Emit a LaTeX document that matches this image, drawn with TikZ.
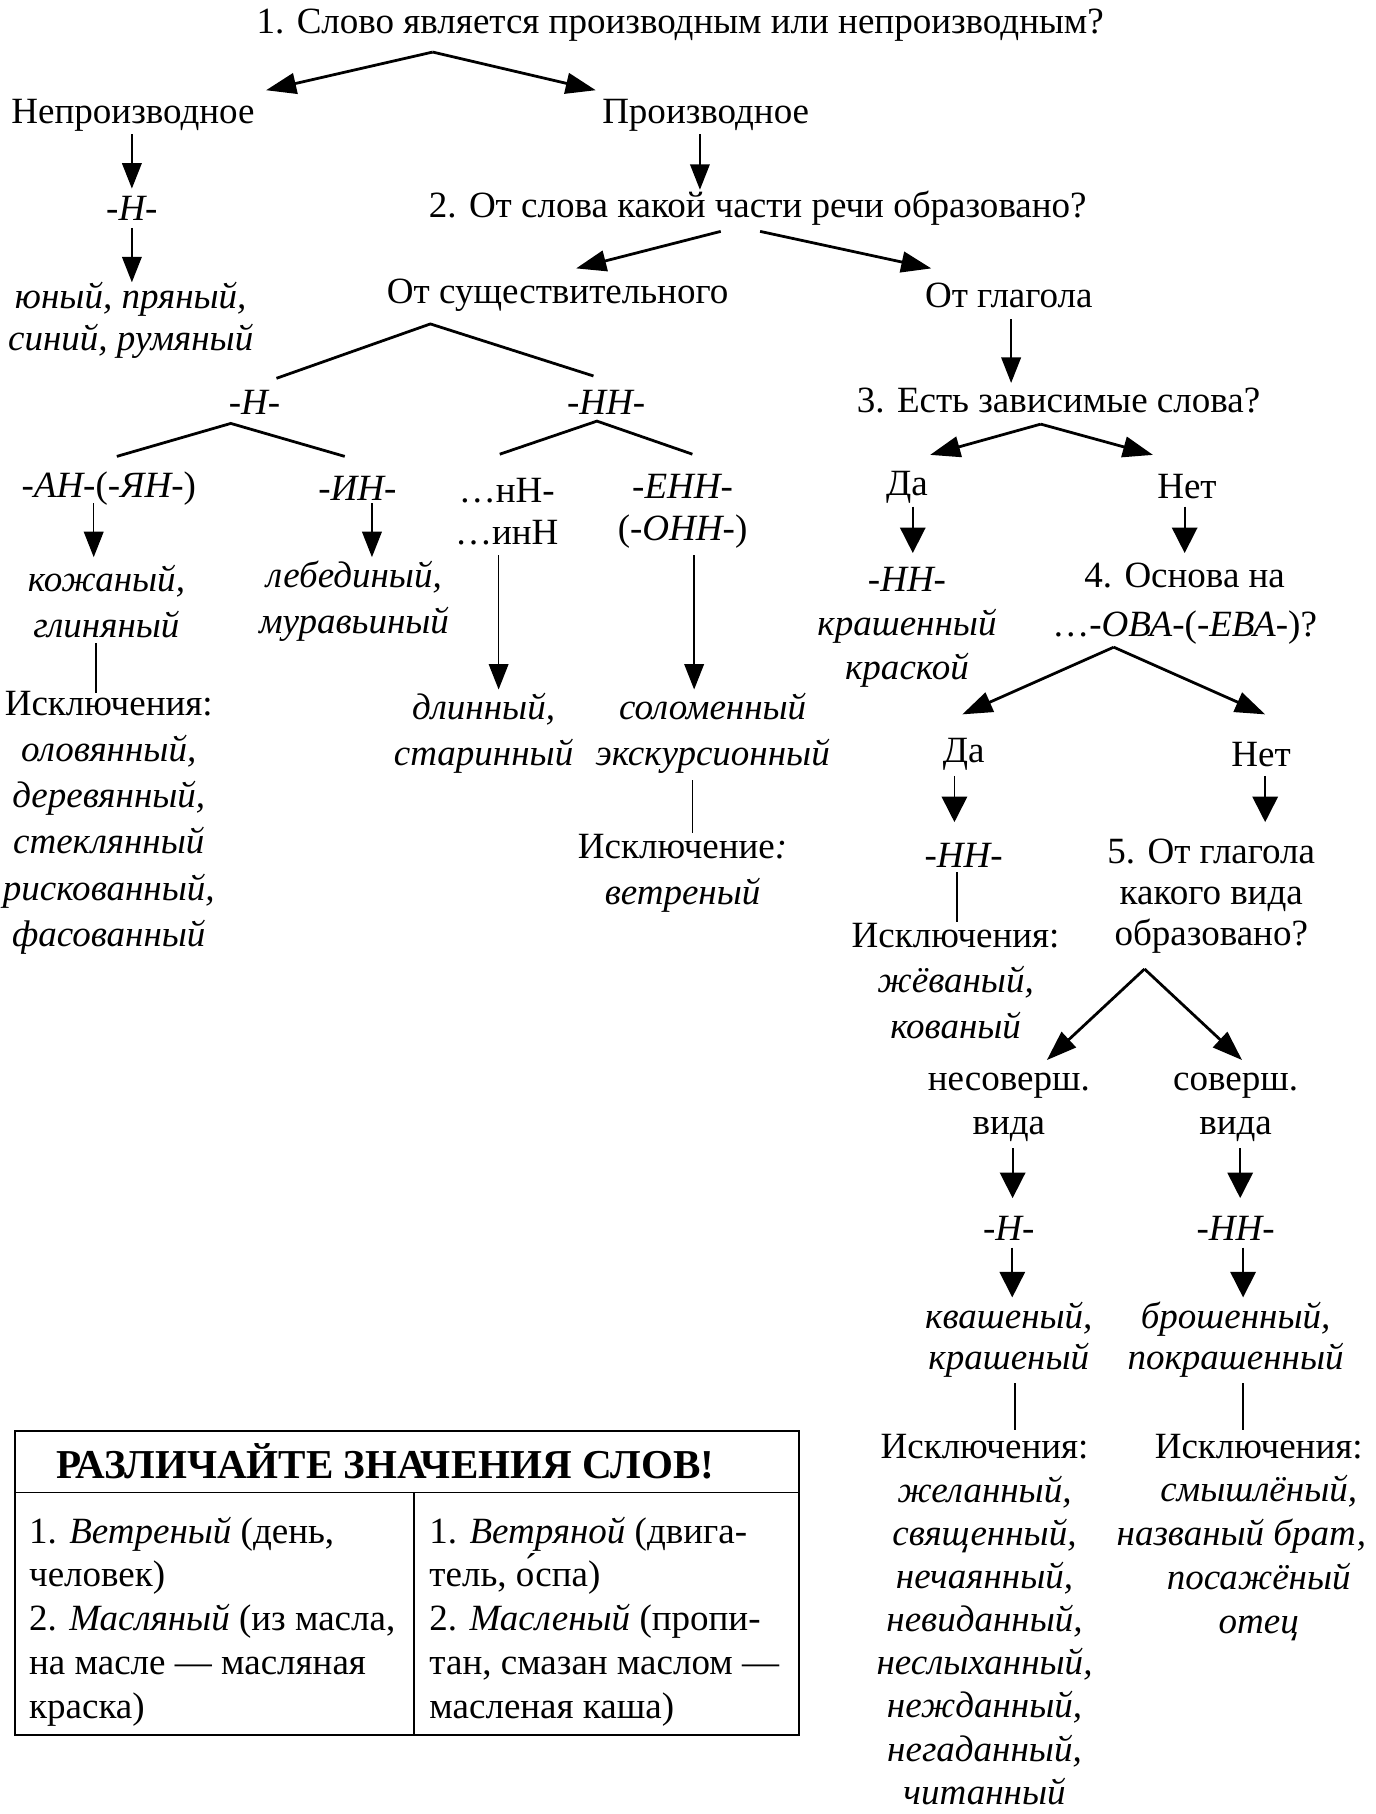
\documentclass[tikz,border=0pt]{standalone}
\usepackage{fontspec}
\setmainfont{Liberation Serif}
\usetikzlibrary{arrows.meta}

\begin{document}
\begin{tikzpicture}[x=1pt, y=-1pt,
    txt/.style={inner sep=0pt, align=center, font=\fontsize{32}{38}\selectfont},
    lsp/.style={font=\fontsize{32}{#1}\selectfont},
    ilsp/.style={font=\fontsize{32}{#1}\selectfont\itshape},
    arr/.style={-{Triangle[length=22pt,width=17pt]}, line width=1.3pt},
    arrw/.style={-{Triangle[length=22pt,width=22pt]}, line width=1.5pt},
    barr/.style={-{Triangle[length=26pt,width=18pt]}, line width=2.4pt},
    forkline/.style={line width=2.4pt},
    exline/.style={line width=1.5pt}]
    \useasboundingbox (0,0) rectangle (1189,1568);

    % left and middle part
    \node[txt] (q1) at (588,22) {1. Слово является производным или непроизводным?};
    \node[txt] (nonder) at (115,100) {Непроизводное};
    \node[txt] (der) at (610,100) {Производное};
    \node[txt] (n1) at (114,180) {\itshape -Н-};
    \node[txt, ilsp=36] (ex1) at (113,277) {юный, пряный,\\синий, румяный};
    \node[txt] (q2) at (655,180) {2. От слова какой части речи образовано?};
    \node[txt] (noun) at (482,255) {От существительного};
    \node[txt] (verb) at (872,255) {От глагола};
    \node[txt] (nh) at (220,348) {\itshape -Н-};
    \node[txt] (nnh) at (524,348) {\itshape -НН-};
    \node[txt] (an) at (94,422) {\textit{-АН-}(\textit{-ЯН-})};
    \node[txt] (in) at (309,422) {\itshape -ИН-};
    \node[txt, lsp=36] (nn3) at (438,442) {…нН-\\…инН};
    \node[txt, lsp=36] (enn) at (590,442) {\textit{-ЕНН-}\\(\textit{-ОНН-})};
    \node[txt, ilsp=40] (kozh) at (92,520) {кожаный,\\глиняный};
    \node[txt, ilsp=40] (leb) at (306,520) {лебединый,\\муравьиный};
    \node[txt, lsp=40] (exc1) at (94,711) {Исключения:\\\itshape оловянный,\\\itshape деревянный,\\\itshape стеклянный\\\itshape рискованный,\\\itshape фасованный};
    \node[txt, ilsp=40] (dlin) at (418,634) {длинный,\\старинный};
    \node[txt, ilsp=40] (solom) at (616,634) {соломенный\\экскурсионный};
    \node[txt, lsp=40] (exc2) at (590,755) {Исключение\textit{:}\\\itshape ветреный};

    % right part
    \node[txt] (q3) at (915,346) {3. Есть зависимые слова?};
    \node[txt] (yes1) at (784,421) {Да};
    \node[txt] (no1) at (1026,421) {Нет};
    \node[txt] (hh2) at (784,501) {\itshape -НН-};
    \node[txt, ilsp=38] (krash) at (784,560) {крашенный\\краской};
    \node[txt, lsp=42] (q4) at (1024,522) {4. Основа на\\…-\textit{ОВА}-(-\textit{ЕВА}-)?};
    \node[txt] (yes2) at (833,652) {Да};
    \node[txt] (no2) at (1090,652) {Нет};
    \node[txt] (hh3) at (833,739) {\itshape -НН-};
    \node[txt, lsp=39.5] (exc3) at (826,848) {Исключения:\\\itshape жёваный,\\\itshape кованый};
    \node[txt, lsp=35.5] (q5) at (1047,775) {5. От глагола\\какого вида\\образовано?};
    \node[txt] (imperf) at (872,957) {несоверш.\\вида};
    \node[txt] (perf) at (1068,957) {соверш.\\вида};
    \node[txt] (h4) at (872,1062) {\itshape -Н-};
    \node[txt] (hh4) at (1068,1062) {\itshape -НН-};
    \node[txt, ilsp=36] (kvash) at (872,1158) {квашеный,\\крашеный};
    \node[txt, ilsp=36] (brosh) at (1068,1158) {брошенный,\\покрашенный};
    \node[txt, lsp=37.3] (exc4) at (851,1400) {Исключения:\\\itshape желанный,\\\itshape священный,\\\itshape нечаянный,\\\itshape невиданный,\\\itshape неслыханный,\\\itshape нежданный,\\\itshape негаданный,\\\itshape читанный};
    \node[txt, lsp=38] (exc5) at (1088,1329) {Исключения:\\\itshape смышлёный,\\\itshape названый брат,\kern30pt\\\itshape посажёный\\\itshape отец};

    % forks
    \coordinate (q1fork) at ([shift={(-214,23)}]q1.center);
    \draw[barr] (q1fork) -- ([shift={(115,-22)}]nonder.center);
    \draw[barr] (q1fork) -- ([shift={(-95,-22)}]der.center);
    \draw[barr] ([shift={(-32,20)}]q2.center) -- ([shift={(16,-23)}]noun.center);
    \draw[barr] ([shift={(2,20)}]q2.center) -- ([shift={(-67,-23)}]verb.center);
    \coordinate (nounfork) at ([shift={(-110,25)}]noun.center);
    \draw[forkline] ([shift={(19,-21)}]nh.center) -- (nounfork) -- ([shift={(-11,-23)}]nnh.center);
    \coordinate (nhfork) at ([shift={(-20.5,18)}]nh.center);
    \draw[forkline] ([shift={(7,-27.5)}]an.center) -- (nhfork) -- ([shift={(-11,-27.5)}]in.center);
    \coordinate (nnhfork) at ([shift={(-8,16)}]nnh.center);
    \draw[forkline] ([shift={(-6,-49.4)}]nn3.center) -- (nnhfork) -- ([shift={(8.5,-49.4)}]enn.center);
    \coordinate (q3fork) at ([shift={(-15.4,20.6)}]q3.center);
    \draw[barr] (q3fork) -- ([shift={(20,-27.8)}]yes1.center);
    \draw[barr] (q3fork) -- ([shift={(-29.4,-27.8)}]no1.center);
    \coordinate (q4fork) at ([shift={(-61.3,37.4)}]q4.center);
    \draw[barr] (q4fork) -- ([shift={(-1.2,-34.5)}]yes2.center);
    \draw[barr] (q4fork) -- ([shift={(3.6,-34.5)}]no2.center);
    \coordinate (q5fork) at ([shift={(-57.7,62.6)}]q5.center);
    \draw[barr] (q5fork) -- ([shift={(32.9,-40.7)}]imperf.center);
    \draw[barr] (q5fork) -- ([shift={(5.6,-40.7)}]perf.center);

    % straight arrows
    \draw[arr] ([shift={(-1,16)}]nonder.center) -- ([shift={(0,-17)}]n1.center);
    \draw[arr] ([shift={(0,17)}]n1.center) -- ([shift={(1,-33)}]ex1.center);
    \draw[arr] ([shift={(-5,16)}]der.center) -- ([shift={(-50,-16)}]q2.center);
    \draw[arr] ([shift={(2,21)}]verb.center) -- ([shift={(-41,-15)}]q3.center);
    \draw[arr] ([shift={(-13,13)}]an.center) -- ([shift={(-11,-38.4)}]kozh.center);
    \draw[arr] ([shift={(12.5,13)}]in.center) -- ([shift={(15.5,-38.4)}]leb.center);
    \draw[arr] ([shift={(-7,38)}]nn3.center) -- ([shift={(13,-38)}]dlin.center);
    \draw[arr] ([shift={(10,38)}]enn.center) -- ([shift={(-16,-38)}]solom.center);
    \draw[arrw] ([shift={(5,17)}]yes1.center) -- ([shift={(5,-23)}]hh2.center);
    \draw[arrw] ([shift={(-2,17)}]no1.center) -- ([shift={(0,-44)}]q4.center);
    \draw[arrw] ([shift={(-8,18.7)}]yes2.center) -- ([shift={(-8,-28.4)}]hh3.center);
    \draw[arrw] ([shift={(3.6,18.7)}]no2.center) -- ([shift={(46.6,-64.4)}]q5.center);
    \draw[arrw] ([shift={(3.3,35.6)}]imperf.center) -- ([shift={(3.3,-26.4)}]h4.center);
    \draw[arrw] ([shift={(4,35.6)}]perf.center) -- ([shift={(4,-26.4)}]hh4.center);
    \draw[arrw] ([shift={(3,16.5)}]h4.center) -- ([shift={(3,-36.6)}]kvash.center);
    \draw[arrw] ([shift={(6.5,16.5)}]hh4.center) -- ([shift={(6.5,-36.6)}]brosh.center);

    % lines to exceptions
    \draw[exline] ([shift={(-9,36)}]kozh.center) -- ([shift={(-11,-112)}]exc1.center);
    \draw[exline] ([shift={(-17.5,40.5)}]solom.center) -- ([shift={(8.5,-35.4)}]exc2.center);
    \draw[exline] ([shift={(-6,14.8)}]hh3.center) -- ([shift={(1,-51)}]exc3.center);
    \draw[exline] ([shift={(5.4,37.6)}]kvash.center) -- ([shift={(26.4,-164)}]exc4.center);
    \draw[exline] ([shift={(6.5,37.6)}]brosh.center) -- ([shift={(-13.5,-93)}]exc5.center);

    % table
    \draw[line width=1.5pt] (12.7,1237) rectangle (690.8,1500);
    \draw[line width=1.5pt] (12.7,1290) -- (690.8,1290);
    \draw[line width=1.5pt] (358,1290) -- (358,1500);
    \node[txt, font=\fontsize{35.5}{40}\selectfont\bfseries] (tabhead) at (333,1263) {РАЗЛИЧАЙТЕ ЗНАЧЕНИЯ СЛОВ!};
    \node[txt, lsp=37.8, anchor=west, align=left] (tabl) at (25,1401.5) {1. \textit{Ветреный} (день,\\человек)\\2. \textit{Масляный} (из масла,\\на масле — масляная\\краска)};
    \node[txt, lsp=37.8, anchor=west, align=left] (tabr) at (371,1401.5) {1. \textit{Ветряной} (двига-\\тель, о́спа)\\2. \textit{Масленый} (пропи-\\тан, смазан маслом —\\масленая каша)};
\end{tikzpicture}
\end{document}
